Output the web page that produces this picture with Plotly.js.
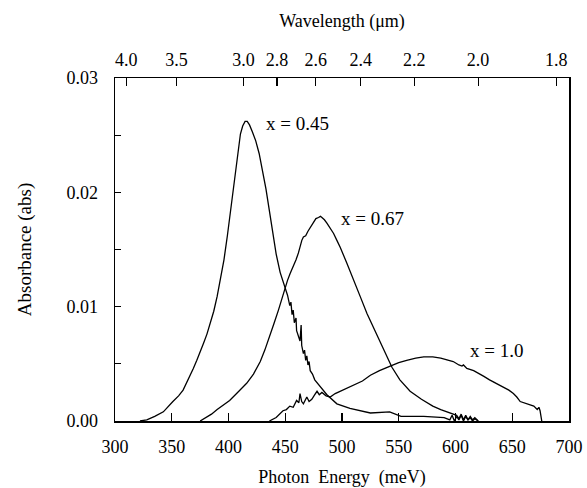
<!DOCTYPE html>
<html>
<head>
<meta charset="utf-8">
<script src="https://cdn.plot.ly/plotly-3.0.1.min.js"></script>
<style>html,body{margin:0;padding:0;background:#fff;}#chart{width:587px;height:488px;}</style>
</head>
<body>
<div id="chart"></div>
<script>
// x = 0.45 series (photon energy meV, absorbance)
const e045 = [322,328,335,342.6,351,356,360,363,366,369,372,375,378,381,384,387,390,393,396,399,402,405,408,410.5,412.5,414.6,416.5,418.5,421,424,427,430,433,436,439,442,445.5,450,452,454,455,456,457,458,459.5,460,462,463,464,464.5,466,467,468,469,470,471,472,474,476,480.8,486.7,495.5,507,525,542,552,572,590,595,597,599,601,603,605,607,609,611,613,615,617,620];
const a045 = [0,0.0001,0.0004,0.0008,0.0017,0.0022,0.0027,0.0033,0.0039,0.0046,0.0053,0.0060,0.0068,0.0076,0.0085,0.0096,0.0109,0.0124,0.0141,0.0162,0.0186,0.0212,0.0236,0.0251,0.0258,0.0262,0.0262,0.0259,0.0253,0.0245,0.0234,0.0220,0.0203,0.0184,0.0164,0.0146,0.0130,0.0116,0.0110,0.0101,0.0104,0.0093,0.0097,0.0086,0.0090,0.0079,0.0072,0.0070,0.0084,0.0066,0.0059,0.0062,0.0053,0.0057,0.0049,0.0052,0.0044,0.0041,0.0036,0.0030,0.0023,0.0015,0.0011,0.0007,0.0008,0.0004,0.0004,0.0003,0.0001,0.0005,0.0000,0.0004,0.0001,0.0005,0.0000,0.0004,0.0001,0.0003,0.0000,0.0002,0];

// x = 0.67 series
const e067 = [375,380,385,390,395,401,408,416,422,428,432,436,440,444,447,449.9,452,454.3,457,459.5,461.6,463,464.6,466,468,470,472,475,477,479.3,481,482.3,484.5,486.7,489.5,492.6,495.5,498.4,504.3,510,516,522,528,534,540,544,551,560,570,580,587,595,601,603,605,607,609,611,613,615,617,620];
const a067 = [0,0.0003,0.0006,0.0010,0.0014,0.0018,0.0025,0.0033,0.0041,0.0052,0.0062,0.0073,0.0085,0.0097,0.0107,0.0116,0.0123,0.0129,0.0135,0.0141,0.0147,0.0153,0.0158,0.0161,0.0162,0.0166,0.0169,0.0174,0.0177,0.0178,0.0179,0.0178,0.0176,0.0173,0.0169,0.0164,0.0158,0.0152,0.0138,0.0123,0.0109,0.0094,0.0081,0.0068,0.0056,0.0047,0.0036,0.0026,0.0019,0.0013,0.0010,0.0007,0.0005,0.0002,0.0006,0.0001,0.0005,0.0001,0.0004,0.0001,0.0003,0];

// x = 1.0 series
const e100 = [436,442,448,451,454,457,460,462,463,464.5,466,468,469,471,473.4,476,478,480,482.3,486,489.6,494,498.4,504,510,518,525,533,542.5,550,557,565,572,580,587,593,598,603,605.7,607,610,616,620,625,630,634,638,642,647,651,654,657,660,663,666,669,672,673.5,674.5,676];
const a100 = [0,0.0003,0.0009,0.0010,0.0013,0.0012,0.0018,0.0016,0.0024,0.0017,0.0015,0.0019,0.0021,0.0017,0.0019,0.0023,0.0026,0.0023,0.0025,0.0022,0.0021,0.0024,0.0026,0.0028,0.0031,0.0035,0.0040,0.0044,0.0048,0.0051,0.0053,0.0055,0.0056,0.0056,0.0055,0.0053,0.0052,0.0049,0.0048,0.0049,0.0046,0.0044,0.0042,0.0039,0.0036,0.0034,0.0032,0.0030,0.0027,0.0024,0.0021,0.0017,0.0016,0.0015,0.0014,0.0013,0.0010,0.0012,0.0009,0];

// axis ticks
const energyTicks = [300,350,400,450,500,550,600,650,700];
const absTicks = [0,0.005,0.01,0.015,0.02,0.025,0.03];
const absLabels = ['0.00','','0.01','','0.02','','0.03'];
const wavelengths = [4.0,3.5,3.0,2.8,2.6,2.4,2.2,2.0,1.8];
const wavelengthLabels = ['4.0','3.5','3.0','2.8','2.6','2.4','2.2','2.0','1.8'];
const seriesLabels = ['x = 0.45','x = 0.67','x = 1.0'];
const labelPos = [[460.5,0.0260],[526.5,0.0177],[636,0.0062]];

const FONT = 'Liberation Serif, Times New Roman, serif';
const lineStyle = {color:'#000', width:1.3};

const traces = [
  {x:e045, y:a045, mode:'lines', line:lineStyle, name:seriesLabels[0], showlegend:false},
  {x:e067, y:a067, mode:'lines', line:lineStyle, name:seriesLabels[1], showlegend:false},
  {x:e100, y:a100, mode:'lines', line:lineStyle, name:seriesLabels[2], showlegend:false},
  {x:e045, y:a045, xaxis:'x2', mode:'lines', opacity:0, hoverinfo:'skip', showlegend:false}
];

const layout = {
  width:587, height:488,
  margin:{l:115, r:18, t:78, b:67},
  paper_bgcolor:'#fff', plot_bgcolor:'#fff',
  font:{family:FONT, size:18, color:'#000'},
  showlegend:false,
  xaxis:{
    range:[300,700], tickvals:energyTicks, ticktext:energyTicks.map(String),
    ticks:'inside', ticklen:8, tickwidth:1.2, tickcolor:'#000',
    showline:true, linecolor:'#000', linewidth:1.5, mirror:true,
    showgrid:false, zeroline:false, ticklabelstandoff:9,
    tickfont:{family:FONT, size:18},
    title:{text:'Photon  Energy  (meV)', font:{family:FONT, size:18}, standoff:14}
  },
  xaxis2:{
    overlaying:'x', side:'top', anchor:'y', range:[300,700],
    tickvals:wavelengths.map(l => 1239.84/l), ticktext:wavelengthLabels,
    ticks:'inside', ticklen:8, tickwidth:1.2, tickcolor:'#000',
    showline:false, showgrid:false, zeroline:false, ticklabelstandoff:7,
    tickfont:{family:FONT, size:18},
    title:{text:'Wavelength (\u03bcm)', font:{family:FONT, size:18}, standoff:18}
  },
  yaxis:{
    range:[0,0.03], tickvals:absTicks, ticktext:absLabels,
    ticks:'inside', ticklen:6, tickwidth:1.2, tickcolor:'#000',
    showline:true, linecolor:'#000', linewidth:1.5, mirror:true,
    showgrid:false, zeroline:false, ticklabelstandoff:12,
    tickfont:{family:FONT, size:18},
    title:{text:'Absorbance (abs)', font:{family:FONT, size:19}, standoff:30}
  },
  annotations: seriesLabels.map((t,i) => ({
    x:labelPos[i][0], y:labelPos[i][1], xref:'x', yref:'y', text:t,
    showarrow:false, font:{family:FONT, size:19, color:'#000'}
  }))
};

Plotly.newPlot('chart', traces, layout, {staticPlot:true, displayModeBar:false});
</script>
</body>
</html>
